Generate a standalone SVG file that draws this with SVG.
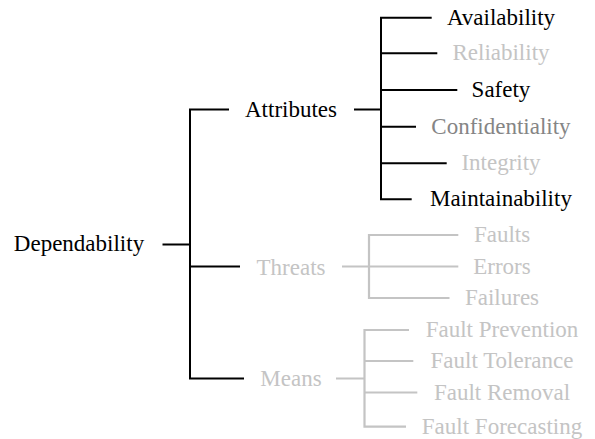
<svg xmlns="http://www.w3.org/2000/svg" width="595" height="439" viewBox="0 0 595 439">
<style>
text{font-size:23px;text-anchor:middle}
.k{fill:#000}
.g{fill:#c4c4c4}
.m{fill:#858585}
.lk{fill:none;stroke:#000;stroke-width:2}
.lg{fill:none;stroke:#c4c4c4;stroke-width:2.2}
</style>
<rect width="595" height="439" fill="#fff"/>
<g id="connectors">
<path class="lk" d="M162.5 244.5H190M229 109.5H190V378.5H244M190 266.5H240"/>
<path class="lk" d="M354 109.5H381M431.7 17.7H381V199.3H411.7M381 53.3H437.3M381 90H457.3M381 126.7H416M381 163.3H446.7"/>
<path class="lg" d="M342 266.5H369M458.3 235H369V298H449.5M369 266.5H458.3"/>
<path class="lg" d="M336 378.5H364.5M409 330H364.5V426.7H406M364.5 361H413.3M364.5 392.5H417.3"/>
</g>
<g font-family="'Liberation Serif', 'DejaVu Serif', serif">
<g id="dependability"><text class="k" x="79" y="251">Dependability</text></g>
<g id="attributes"><text class="k" x="291" y="117">Attributes</text></g>
<g id="threats"><text class="g" x="291" y="274.5">Threats</text></g>
<g id="means"><text class="g" x="291" y="386">Means</text></g>
<g id="availability"><text class="k" x="501" y="24.7">Availability</text></g>
<g id="reliability"><text class="g" x="501" y="60.3">Reliability</text></g>
<g id="safety"><text class="k" x="501" y="97">Safety</text></g>
<g id="confidentiality"><text class="m" x="501" y="133.7">Confidentiality</text></g>
<g id="integrity"><text class="g" x="501" y="170.3">Integrity</text></g>
<g id="maintainability"><text class="k" x="501" y="206.3">Maintainability</text></g>
<g id="faults"><text class="g" x="502" y="242">Faults</text></g>
<g id="errors"><text class="g" x="502" y="273.5">Errors</text></g>
<g id="failures"><text class="g" x="502" y="305">Failures</text></g>
<g id="fault-prevention"><text class="g" x="502" y="337">Fault Prevention</text></g>
<g id="fault-tolerance"><text class="g" x="502" y="368">Fault Tolerance</text></g>
<g id="fault-removal"><text class="g" x="502" y="399.5">Fault Removal</text></g>
<g id="fault-forecasting"><text class="g" x="502" y="433.7">Fault Forecasting</text></g>
</g>
</svg>
